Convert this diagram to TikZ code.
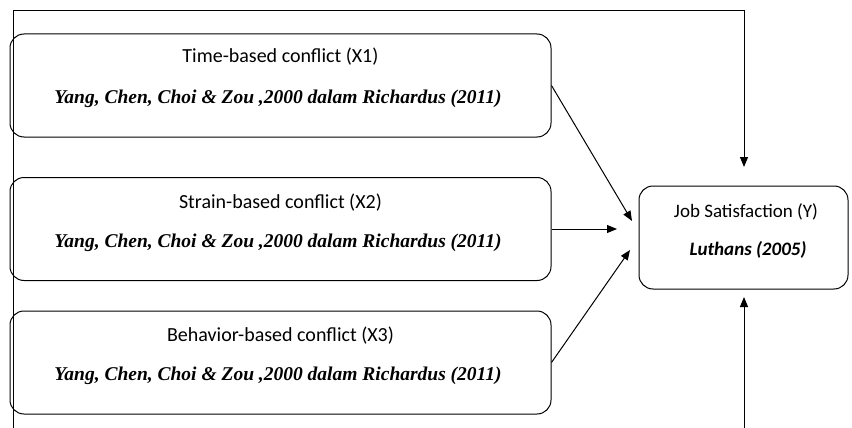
\documentclass[tikz,border=0pt]{standalone}
\usepackage{fontspec}
\setmainfont{Liberation Serif}
\newfontfamily\calibri{Carlito}
\usetikzlibrary{arrows.meta}

\tikzstyle{factor} = [draw, rounded corners=14pt, line width=1pt, minimum width=541pt, minimum height=103pt]
\tikzstyle{result} = [draw, rounded corners=14pt, line width=1pt, minimum width=209pt, minimum height=103pt]
\tikzstyle{title} = [inner sep=0pt, anchor=base, font=\calibri\fontsize{20}{24}\selectfont]
\tikzstyle{source} = [inner sep=0pt, anchor=base, font=\bfseries\itshape\fontsize{19.5}{23}\selectfont]
\tikzstyle{link} = [line width=1pt, -{Triangle[width=8pt,length=10pt]}]

\begin{document}
\begin{tikzpicture}[x=1pt,y=-1pt]
	\useasboundingbox (0,0) rectangle (852,428);
	
	\node[factor] (x1) at (280.5,85.5) {};
	\node[factor] (x2) at (280.5,229) {};
	\node[factor] (x3) at (280.5,362.5) {};
	\node[result] (y) at (743.5,237.5) {};
	
	\node[title] (t1) at (280.5,63) {Time-based conflict (X1)};
	\node[source] (s1) at (278,103) {Yang, Chen, Choi \& Zou ,2000 dalam Richardus (2011)};
	\node[title] (t2) at (280.5,208) {Strain-based conflict (X2)};
	\node[source] (s2) at (278,247) {Yang, Chen, Choi \& Zou ,2000 dalam Richardus (2011)};
	\node[title] (t3) at (280.5,341) {Behavior-based conflict (X3)};
	\node[source] (s3) at (278,380) {Yang, Chen, Choi \& Zou ,2000 dalam Richardus (2011)};
	\node[title, font=\calibri\fontsize{19}{23}\selectfont] (ty) at (746,217) {Job Satisfaction (Y)};
	\node[title, font=\calibri\bfseries\itshape\fontsize{19}{23}\selectfont] (sy) at (748,255) {Luthans (2005)};
	
	\coordinate (in1) at (632,221);
	\coordinate (in2) at (617,229);
	\coordinate (in3) at (630,250);
	\coordinate (lowleft) at (13,430);
	\coordinate (topleft) at (13,11);
	\coordinate (topright) at (744,11);
	\coordinate (intop) at (744,167);
	\coordinate (lowright) at (744,430);
	\coordinate (inlow) at (744,297);
	
	\draw[link] (x1.east) -- (in1);
	\draw[link] (x2.east) -- (in2);
	\draw[link] (x3.east) -- (in3);
	\draw[link] (lowleft) -- (topleft) -- (topright) -- (intop);
	\draw[link] (lowright) -- (inlow);
\end{tikzpicture}
\end{document}
